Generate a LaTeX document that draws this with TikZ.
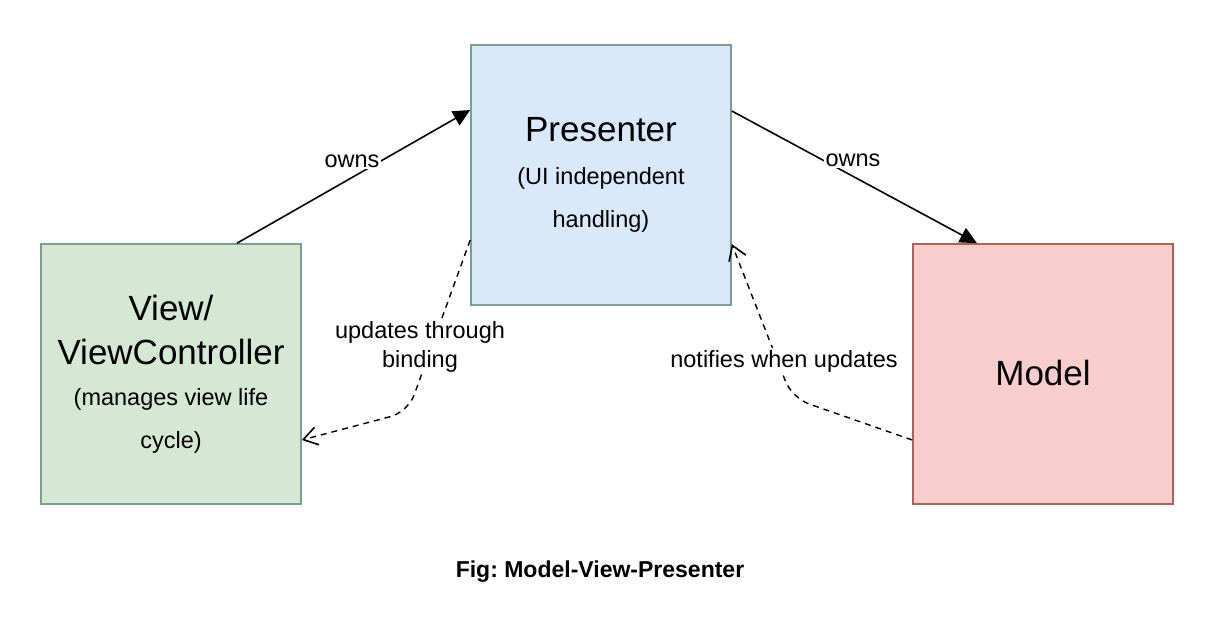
\documentclass[tikz,border=0pt]{standalone}
\usepackage{fontspec}
\setmainfont{Liberation Sans}
\usetikzlibrary{arrows.meta}
\definecolor{viewfill}{HTML}{D5E8D4}
\definecolor{presfill}{HTML}{DAE8FC}
\definecolor{modelfill}{HTML}{F8CECC}
\definecolor{greenstroke}{HTML}{7C9E90}
\definecolor{redstroke}{HTML}{B0605C}
\tikzset{
  box/.style={draw, line width=1.6pt, minimum width=260pt, minimum height=260pt, inner sep=0pt},
  bigtext/.style={font=\fontsize{35}{40}\selectfont, inner sep=0pt},
  smalltext/.style={font=\fontsize{23.5}{28}\selectfont, inner sep=0pt},
  edgelabel/.style={font=\fontsize{23.5}{28}\selectfont, fill=white, inner sep=2pt},
  ownsarrow/.style={line width=1.6pt, -{Triangle[length=17pt,width=16pt]}},
  dasharrow/.style={line width=1.4pt, dash pattern=on 6pt off 5pt, rounded corners=18pt, -{Straight Barb[length=14pt,width=18pt,line width=1.6pt]}},
}
\begin{document}
\frenchspacing
\begin{tikzpicture}[x=1pt,y=-1pt]
\useasboundingbox (0,0) rectangle (1224,620);
% boxes
\node[box, fill=viewfill, draw=greenstroke] (view) at (171,374) {};
\node[box, fill=presfill, draw=greenstroke] (pres) at (601,175) {};
\node[box, fill=modelfill, draw=redstroke] (model) at (1043,374) {};
% texts
\node[bigtext] (ptitle) at (601,130) {Presenter};
\node[smalltext] (psub1) at (601,178) {(UI independent};
\node[smalltext] (psub2) at (601,221) {handling)};
\node[bigtext] (vtitle1) at (171,308) {View/};
\node[bigtext] (vtitle2) at (171,352) {ViewController};
\node[smalltext] (vsub1) at (171,399) {(manages view life};
\node[smalltext] (vsub2) at (171,442) {cycle)};
\node[bigtext] (mtitle) at (1043,373) {Model};
% helper coordinates
\coordinate (vtop) at ([xshift=66pt]view.north);
\coordinate (pleftup) at ([yshift=65pt]pres.west);
\coordinate (prightup) at ([yshift=64pt]pres.east);
\coordinate (mtop) at ([xshift=-66pt]model.north);
\coordinate (pleftlow) at ([yshift=-65pt]pres.west);
\coordinate (vright) at ([yshift=-66pt]view.east);
\coordinate (bend1) at (408,412);
\coordinate (prightlow) at ([yshift=-69pt]pres.east);
\coordinate (mleft) at ([yshift=-66pt]model.west);
\coordinate (bend2) at (792,398);
% edges
\draw[ownsarrow] (vtop) -- (pleftup);
\draw[ownsarrow] (prightup) -- (mtop);
\node[edgelabel] (l1) at (352,161) {owns};
\node[edgelabel] (l2) at (853,160) {owns};
\draw[dasharrow] (pleftlow) -- (bend1) -- (vright);
\draw[dasharrow] (mleft) -- (bend2) -- (prightlow);
\node[edgelabel, align=center, font=\fontsize{23.5}{29}\selectfont] (l3) at (420,347) {updates through\\binding};
\node[edgelabel] (l4) at (784,361) {notifies when updates};
% caption
\node[font=\fontsize{23}{28}\selectfont\bfseries] (cap) at (600,572) {Fig: Model-View-Presenter};
\end{tikzpicture}
\end{document}
